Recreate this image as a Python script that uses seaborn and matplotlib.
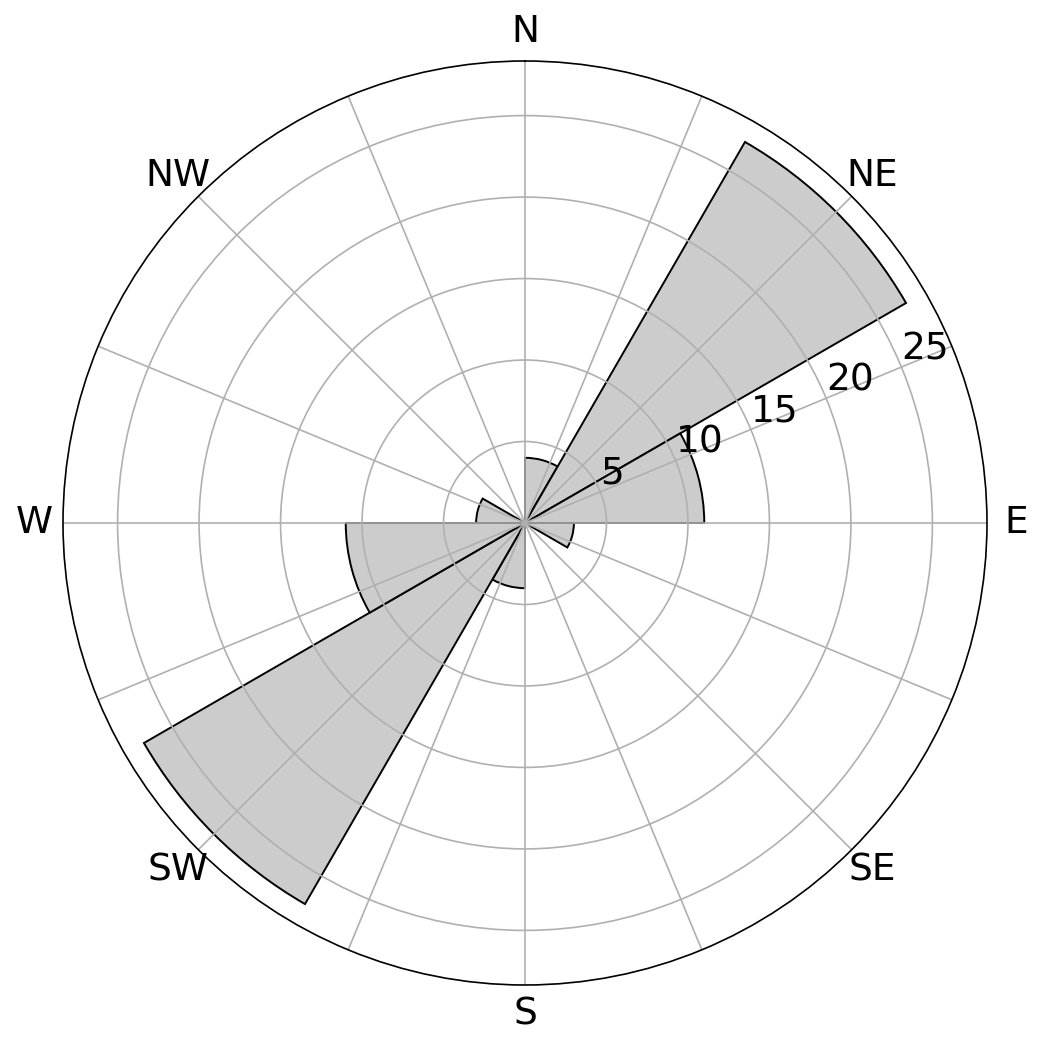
import numpy as np
import matplotlib
matplotlib.use("Agg")
import matplotlib.pyplot as plt
import seaborn as sns

# wind direction bins (compass degrees, 30 deg wide) and counts
bin_starts = [0, 30, 60, 90, 120, 150, 180, 210, 240, 270, 300, 330]
counts = [4, 27, 11, 3, 0, 0, 4, 27, 11, 3, 0, 0]
grid_angles = np.arange(0, 360, 22.5)
dir_labels = ["N", "", "NE", "", "E", "", "SE", "", "S", "", "SW", "", "W", "", "NW", ""]
r_ticks = [5, 10, 15, 20, 25]

sns.set_theme(style="white", rc={
    "axes.edgecolor": "black",
    "text.color": "black",
    "xtick.color": "black",
    "ytick.color": "black",
    "grid.color": "#b0b0b0",
    "grid.linewidth": 1.2,
    "axes.axisbelow": "line",
})
plt.rcParams["font.family"] = ["DejaVu Sans"]

fig = plt.figure(figsize=(10.42, 10.48), dpi=100)
ax = fig.add_axes([63 / 1042, 63 / 1048, 924 / 1042, 924 / 1048], projection="polar")
ax.set_theta_zero_location("N")
ax.set_theta_direction(-1)

theta = np.deg2rad(bin_starts)
ax.bar(theta, counts, width=np.deg2rad(30), align="edge",
       color="#cccccc", edgecolor="black", linewidth=1.4)

ax.set_thetagrids(grid_angles, dir_labels, fontsize=27)
ax.set_rticks(r_ticks)
ax.set_rlabel_position(67.5)
ax.tick_params(axis="y", labelsize=27)
ax.tick_params(axis="x", pad=8)
ax.grid(True)
ax.spines["polar"].set_linewidth(1.2)

fig.savefig("out.png", dpi=100)
